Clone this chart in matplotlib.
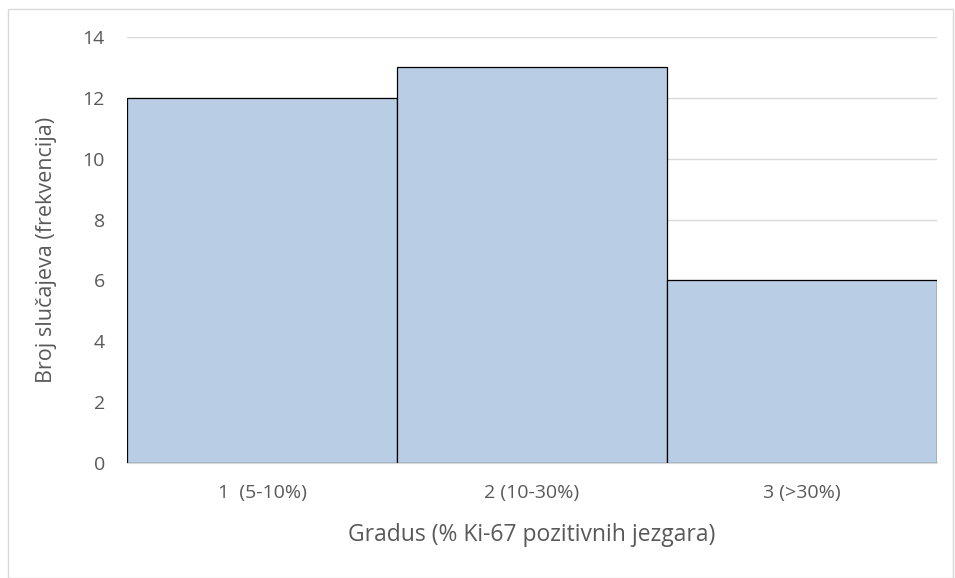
import matplotlib.pyplot as plt
from matplotlib.patches import Rectangle

# podaci
kategorije = ["1  (5-10%)", "2 (10-30%)", "3 (>30%)"]
frekvencije = [12, 13, 6]
y_ticks = [0, 2, 4, 6, 8, 10, 12, 14]

plt.rcParams['font.family'] = ['Open Sans', 'DejaVu Sans']
siva = '#595959'

fig = plt.figure(figsize=(9.55, 5.78), dpi=100)
ax = fig.add_axes([0.133, 0.199, 0.848, 0.737])

# okvir oko grafikona
fig.patches.append(Rectangle((0.008, 0.0), 0.99, 0.985, transform=fig.transFigure,
                             fill=False, edgecolor='#d9d9d9', linewidth=1))

x = range(len(kategorije))
ax.bar(x, frekvencije, width=1.0, color='#b9cde5', edgecolor='black', linewidth=0.9, zorder=2)

ax.set_xlim(-0.5, len(kategorije) - 0.5)
ax.set_ylim(0, 14)
ax.set_yticks(y_ticks)
ax.set_xticks(list(x))
ax.set_xticklabels(kategorije)
ax.grid(axis='y', color='#d9d9d9', linewidth=1, zorder=0)
ax.set_axisbelow(True)

for s in ['top', 'right', 'left']:
    ax.spines[s].set_visible(False)
ax.spines['bottom'].set_color('#d9d9d9')
ax.tick_params(length=0, labelsize=14, labelcolor=siva)
ax.tick_params(axis='y', pad=16)
ax.tick_params(axis='x', pad=15)

ax.set_xlabel("Gradus (% Ki-67 pozitivnih jezgara)", fontsize=16.5, color=siva, labelpad=15)
ax.set_ylabel("Broj slučajeva (frekvencija)", fontsize=15.5, color=siva, labelpad=18)

plt.savefig("out.png", dpi=100)
